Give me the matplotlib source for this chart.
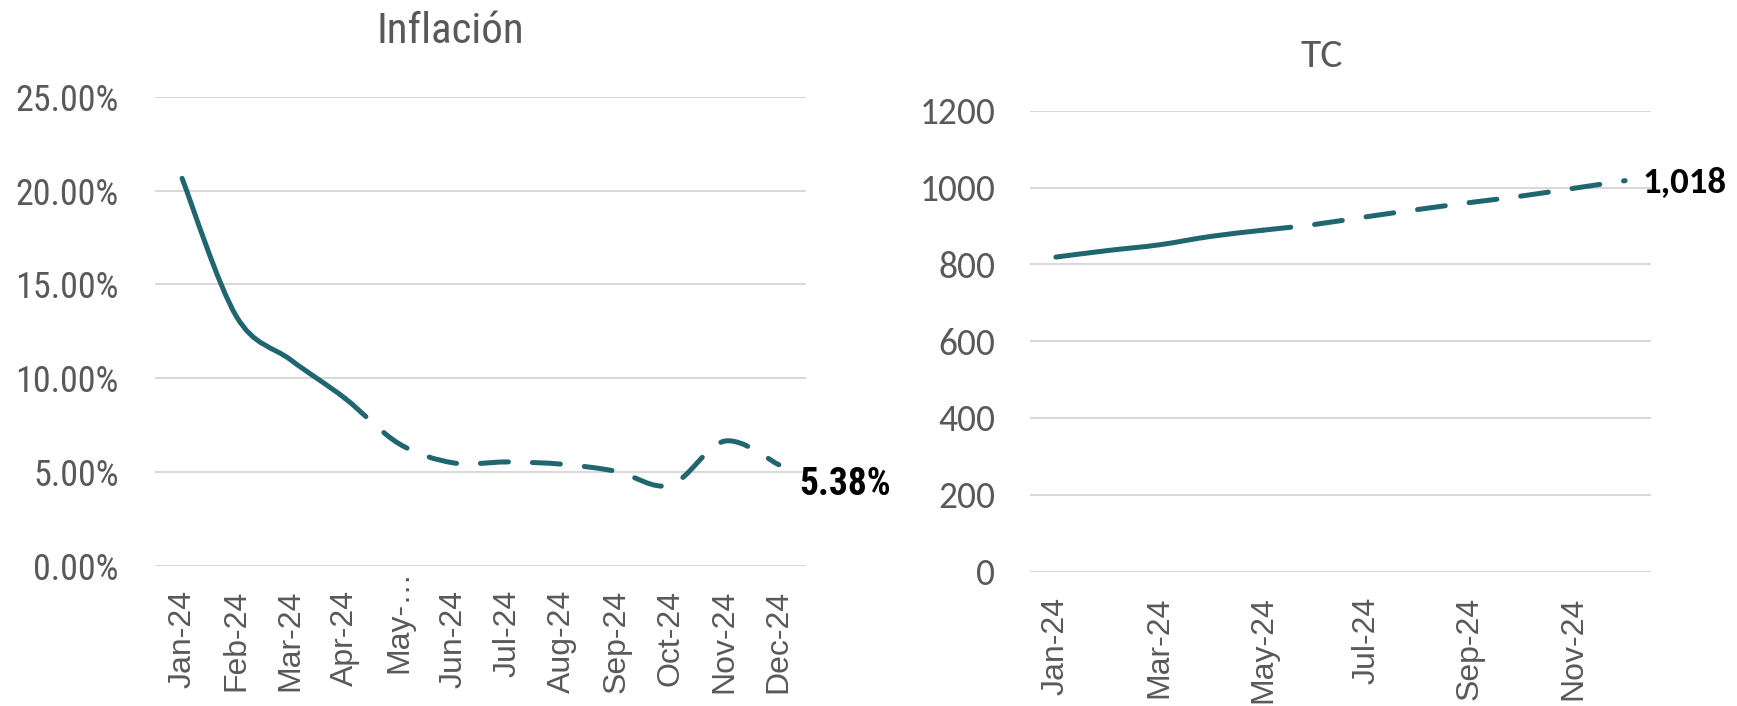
import matplotlib
matplotlib.use("Agg")
import matplotlib.pyplot as plt
from matplotlib.path import Path
from matplotlib.patches import PathPatch
from matplotlib.ticker import PercentFormatter, FixedLocator
from matplotlib.transforms import ScaledTranslation
import numpy as np

# data
months = ["Jan-24", "Feb-24", "Mar-24", "Apr-24", "May-…", "Jun-24",
          "Jul-24", "Aug-24", "Sep-24", "Oct-24", "Nov-24", "Dec-24"]
inflacion = [20.66, 13.3, 10.98, 8.93, 6.5, 5.48, 5.53, 5.41, 5.03, 4.29, 6.64, 5.38]
infl_last_real = 3          # solid up to Apr, dashed after

tc_months = ["Jan-24", "Mar-24", "May-24", "Jul-24", "Sep-24", "Nov-24"]
tc = [819, 836, 851, 873, 889, 904, 924, 943, 961, 978, 998, 1018]
tc_last_real = 4            # solid up to May

COLOR = "#1F6670"
GRID = "#D9D9D9"
GREY = "#595959"
NARROW = ["Roboto Condensed", "DejaVu Sans"]
PLAIN = ["Carlito", "DejaVu Sans"]
ARIAL = ["Liberation Sans", "DejaVu Sans"]
LW = 3.6
DASH = (0, (5.6, 4.8))


def smooth_path(y, i0, i1):
    """Excel-like smoothed line (Catmull-Rom as cubic bezier) between points i0..i1."""
    x = np.arange(len(y), dtype=float)
    y = np.asarray(y, dtype=float)
    n = len(y)
    verts = [(x[i0], y[i0])]
    codes = [Path.MOVETO]
    for i in range(i0, i1):
        a = i - 1 if i > 0 else i
        d = i + 2 if i + 2 < n else i + 1
        c1 = (x[i] + (x[i + 1] - x[a]) / 6, y[i] + (y[i + 1] - y[a]) / 6)
        c2 = (x[i + 1] - (x[d] - x[i]) / 6, y[i + 1] - (y[d] - y[i]) / 6)
        verts += [c1, c2, (x[i + 1], y[i + 1])]
        codes += [Path.CURVE4] * 3
    return Path(verts, codes)


def draw_series(ax, y, split):
    ax.add_patch(PathPatch(smooth_path(y, 0, split), fill=False, ec=COLOR,
                           lw=LW, capstyle="round", joinstyle="round"))
    ax.add_patch(PathPatch(smooth_path(y, split, len(y) - 1), fill=False, ec=COLOR,
                           lw=LW, capstyle="round", joinstyle="round", linestyle=DASH))


def style(ax):
    for s in ax.spines.values():
        s.set_visible(False)
    ax.yaxis.grid(True, color=GRID, lw=1.5)
    ax.set_axisbelow(True)
    ax.set_xlim(-0.5, len(months) - 0.5)


fig = plt.figure(figsize=(17.37, 7.06), dpi=100)

# Inflación
ax1 = fig.add_axes([0.0892, 0.1989, 0.3748, 0.6637])
style(ax1)
draw_series(ax1, inflacion, infl_last_real)
ax1.set_ylim(0, 25)
ax1.set_yticks(np.arange(0, 26, 5))
ax1.yaxis.set_major_formatter(PercentFormatter(decimals=2))
ax1.set_xticks(range(len(months)))
ax1.set_xticklabels(months, rotation=90, fontsize=23, color=GREY, family=ARIAL)
for lab in ax1.get_yticklabels():
    lab.set_fontsize(26)
    lab.set_color(GREY)
    lab.set_family(NARROW)
ax1.tick_params(axis="y", length=0, pad=26)
ax1.tick_params(axis="x", length=0, pad=17.5)
# the truncated label sits a little higher in the reference
may = ax1.get_xticklabels()[4]
may.set_transform(may.get_transform() + ScaledTranslation(0, 0.2, fig.dpi_scale_trans))
ax1.annotate(f"{inflacion[-1]:.2f}%", xy=(len(inflacion) - 1, inflacion[-1]),
             xytext=(15, -14), textcoords="offset points", ha="left", va="center",
             fontsize=27, fontweight="bold", family=NARROW, color="black",
             annotation_clip=False)
fig.text(0.259, 0.955, "Inflación", ha="center", va="center",
         fontsize=31, color=GREY, family=NARROW)

# TC
ax2 = fig.add_axes([0.593, 0.1904, 0.3575, 0.6527])
style(ax2)
draw_series(ax2, tc, tc_last_real)
ax2.set_ylim(0, 1200)
ax2.set_yticks(np.arange(0, 1201, 200))
ax2.xaxis.set_major_locator(FixedLocator(range(0, len(tc), 2)))
ax2.set_xticklabels(tc_months, rotation=90, fontsize=23, color=GREY, family=ARIAL)
for lab in ax2.get_yticklabels():
    lab.set_fontsize(27)
    lab.set_color(GREY)
    lab.set_family(PLAIN)
ax2.tick_params(axis="y", length=0, pad=25)
ax2.tick_params(axis="x", length=0, pad=18)
ax2.annotate(f"{tc[-1]:,.0f}", xy=(len(tc) - 1, tc[-1]),
             xytext=(12.5, -1.5), textcoords="offset points", ha="left", va="center",
             fontsize=26.5, fontweight="bold", family=PLAIN, color="black",
             annotation_clip=False)
fig.text(0.761, 0.9207, "TC", ha="center", va="center",
         fontsize=30, color=GREY, family=PLAIN)

fig.savefig("out.png", dpi=100)
